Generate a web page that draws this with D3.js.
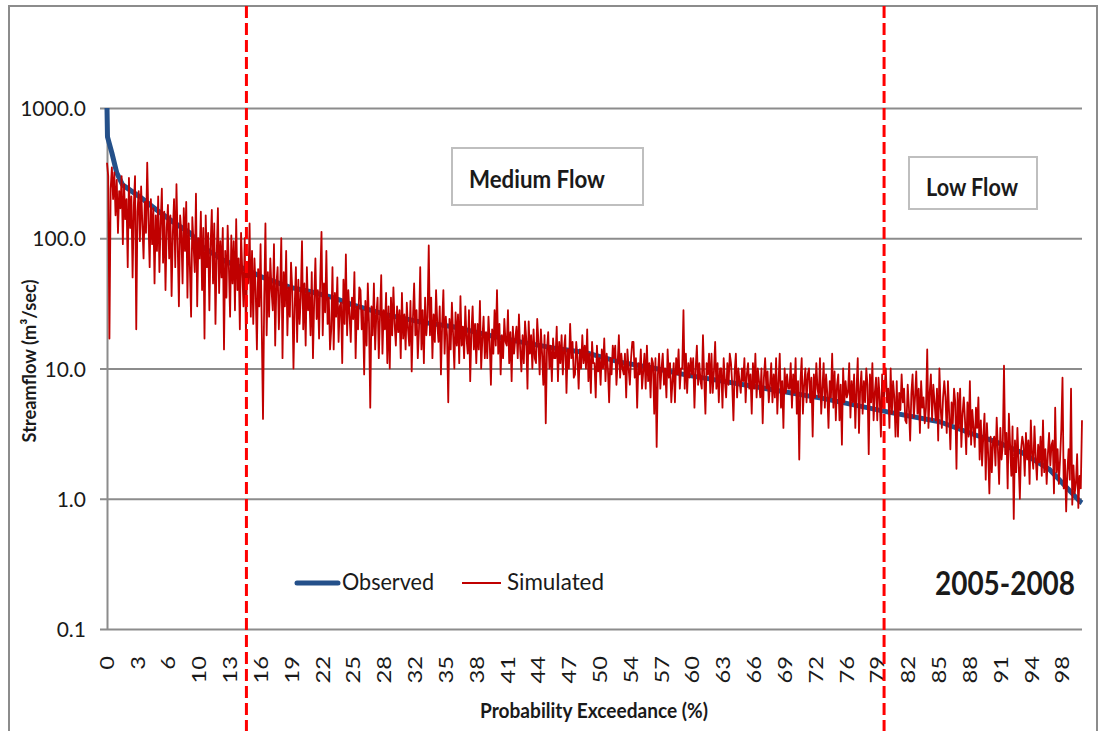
<!DOCTYPE html>
<html>
<head>
<meta charset="utf-8">
<script src="https://cdn.jsdelivr.net/npm/d3@7"></script>
<style>
  body { margin: 0; background: #fff; }
  svg { display: block; font-family: Lato, "Open Sans", sans-serif; }
</style>
</head>
<body>
<svg id="chart" width="1101" height="731"></svg>
<script>
// Flow duration curve, 2005-2008: observed vs simulated streamflow (m³/sec)

const yTickValues = [0.1, 1, 10, 100, 1000];
const xTickLabels = [0, 3, 6, 10, 13, 16, 19, 22, 25, 28, 32, 35, 38, 41, 44, 47,
  50, 54, 57, 60, 63, 66, 69, 72, 76, 79, 82, 85, 88, 91, 94, 98];

// Observed curve: probability exceedance (%) and flow
const observedPct = [0, 0.05, 0.5, 1.0, 1.6, 3.4, 5.1, 6.8, 8.5, 9.8, 11.9, 13.9, 16.0,
  18.8, 20.8, 23.2, 25.2, 28.7, 32.1, 35.5, 39.0, 42.4, 45.7, 49.2, 52.6, 56.0, 59.5,
  66.7, 73.4, 80.3, 85.4, 89.0, 90.6, 91.9, 93.9, 96.7, 99.8, 100];
const observedFlow = [1000, 600, 452, 318, 257, 207, 165, 133, 110, 86, 68, 59, 50,
  42, 39, 35, 30.8, 25.8, 22.8, 20.9, 18.1, 16.0, 14.4, 13.2, 11.2, 10.1, 8.9,
  7.2, 5.9, 4.6, 3.9, 3.1, 2.83, 2.6, 2.25, 1.67, 0.95, 0.93];

// Simulated flows, evenly spaced in rank from 0 % to 100 % exceedance (8 per percent)
const simulatedFlow = [
  380, 300, 17, 240, 350, 200, 320, 150,    280, 110, 230, 170, 300, 90, 260, 140,
  200, 60, 290, 120, 210, 50, 180, 300,     20, 160, 230, 95, 250, 130, 70, 190,
  110, 380, 140, 60, 200, 90, 170, 45,      150, 80, 210, 55, 130, 240, 65, 160,
  40, 120, 180, 70, 150, 36, 110, 200,      60, 260, 90, 30, 150, 110, 45, 170,
  80, 190, 35, 130, 60, 25, 145, 90,        55, 220, 30, 100, 70, 160, 40, 120,
  17, 150, 60, 110, 28, 90, 165, 45,        130, 22, 75, 170, 38, 95, 50, 120,
  14, 80, 35, 125, 60, 25, 105, 45,         95, 28, 140, 40, 70, 20, 110, 55,
  30, 100, 18, 65, 45, 130, 25, 80,         22, 70, 40, 14, 58, 30, 90, 20,
  4.1, 35, 130, 18, 55, 25, 70, 40,         28, 90, 15, 45, 60, 20, 38, 100,
  12, 55, 30, 80, 18, 42, 25, 65,           40, 10, 30, 60, 16, 48, 22, 35,
  95, 20, 45, 15, 60, 28, 38, 18,           55, 12, 33, 70, 24, 40, 17, 50,
  112, 18, 45, 27, 80, 22, 35, 14,          20, 60, 14, 38, 25, 50, 16, 30,
  32, 11, 48, 22, 75, 18, 40, 26,           16, 35, 24, 55, 12, 30, 20, 42,
  40, 20, 28, 9, 33, 15, 45, 22,            5.0, 30, 18, 45, 14, 26, 35, 12,
  25, 52, 13, 28, 20, 38, 11, 30,           10, 35, 18, 42, 22, 15, 30, 19,
  28, 12, 38, 17, 26, 14, 32, 20,           15, 33, 9.5, 24, 45, 18, 28, 12,
  20, 60, 14, 28, 11, 35, 18, 25,           88, 18, 35, 12, 26, 16, 40, 22,
  16, 30, 9, 22, 40, 13, 25, 18,            5.5, 24, 14, 32, 18, 10, 27, 15,
  26, 11, 36, 15, 21, 12, 30, 17,           13, 28, 8, 19, 30, 14, 22, 11,
  22, 14, 33, 10, 17, 25, 12, 19,           12, 25, 16, 7.5, 20, 13, 28, 15,
  40, 13, 22, 9, 18, 12, 24, 16,            15, 28, 11, 19, 8, 21, 13, 17,
  21, 12, 26, 14, 9.5, 18, 11, 23,          17, 7, 23, 13, 18, 10, 20, 12,
  11, 24, 16, 9, 20, 13, 7.5, 18,           3.8, 14, 19, 10, 15, 8, 17, 12,
  12, 21, 8, 16, 11, 18, 9, 14,             18, 6.5, 14, 10, 22, 12, 16, 8.5,
  9, 16, 12, 7, 14, 10, 18, 11,             15, 10, 20, 8, 13, 6.5, 16, 11,
  11, 6, 15, 9.5, 12, 7.5, 14, 10,          17, 8, 13, 10, 5.5, 12, 9, 15,
  12, 15, 7.5, 11, 18, 8.5, 13, 10,         9, 13, 6, 14, 10, 7.5, 12, 16,
  16, 8.5, 12, 5, 11, 9, 14, 7,             9.5, 13, 7, 15, 8, 11, 6, 12,
  11, 4.5, 12, 2.5, 9, 13, 7, 10,           13, 7.5, 10, 6, 14, 8.5, 11, 5.5,
  8, 11, 5.5, 12, 9, 14, 7, 10,             10, 28, 7, 13, 6.5, 11, 8.5, 12,
  9, 12, 5, 10, 15, 7.5, 11, 8,             7, 18, 8.5, 4.5, 11, 9, 13, 6.5,
  13, 6.5, 9.5, 16, 7, 11, 5.5, 10,         10, 5, 12, 8, 6, 11, 7.5, 13,
  11, 7.5, 4, 9.5, 13, 6, 10, 8,            6.5, 10, 8, 12, 5.5, 9, 11, 7,
  9, 4.5, 11, 7, 13, 6, 10, 8,              6, 10, 3.8, 8.5, 12, 7, 9.5, 5.5,
  7.5, 11, 5.5, 9, 6, 12, 4.5, 8,           13, 5, 8, 3.5, 10, 6.5, 9, 7,
  7, 11, 5, 9, 6.5, 12, 4.5, 8,             2.0, 8, 12, 4.5, 7.5, 10, 5.5, 9,
  10, 5.5, 8.5, 3, 9, 6, 11, 7,             6, 12, 4.5, 7, 11, 5, 9, 6.5,
  3.5, 8, 6, 13, 5, 9.5, 4, 7.5,            9, 4, 7.5, 2.6, 10, 5.5, 8, 6,
  6.5, 11, 4.2, 8, 5.5, 9, 3.5, 7,          12, 3.2, 7, 9.5, 4.5, 8, 5.5, 10,
  7.5, 2.2, 9, 5.5, 11, 4, 6.5, 8.5,        4, 8.5, 6, 3, 9, 5, 7, 10,
  5.5, 7, 3.5, 10, 4.5, 8, 6, 3,            8, 3, 6.5, 4.8, 9, 5.5, 7, 4,
  3.8, 7.5, 5, 2.8, 6.5, 9, 4.2, 6,         9.5, 4.5, 7, 3.2, 8, 5, 6, 3.8,
  5, 14, 3.5, 6.5, 9, 4, 7.5, 5.5,          4, 7, 2.8, 10, 5, 3.5, 6, 8,
  6, 3.2, 8, 4.5, 2.4, 5.5, 3.8, 7,         5.5, 1.7, 6.5, 3.5, 7, 2.5, 4.5, 6,
  4, 2.2, 5.5, 3, 8, 2.6, 4.8, 3.5,         2.5, 5, 3.5, 6, 2, 4, 1.8, 3,
  4.5, 1.4, 3.8, 2.2, 1.1, 3, 1.6, 2.8,     3, 1.8, 4.2, 2.4, 1.3, 3.5, 2, 2.6,
  10.5, 2.2, 3.2, 1.2, 4.5, 2.6, 1.5, 3.6,  0.7, 2.8, 1.6, 3.5, 1.9, 1, 2.4, 3,
  2.6, 1.5, 3.2, 2, 2.8, 1.3, 4, 2.2,       1.7, 3.6, 2.1, 1.4, 2.6, 1.9, 3, 1.5,
  4, 1.6, 2.4, 1.3, 2.2, 3.2, 1.8, 2.6,     2.8, 1.1, 5, 1.6, 2.4, 1.3, 2, 3.4,
  8.5, 1.2, 2, 0.8, 1.6, 2.4, 1.4, 7,       0.9, 1.8, 1.1, 1.3, 2.2, 0.85, 1.5, 1.2,
  4
];

// Flow regime boundaries (% exceedance) and their labels
const regimeBounds = [14.3, 79.7];
const regimeNames = ["Medium Flow", "Low Flow"];
const seriesNames = ["Observed", "Simulated"];
const periodLabel = "2005-2008";

const colors = { observed: "#24508a", simulated: "#c00000", grid: "#8c8c8c", bound: "#ff0000", text: "#1a1a1a" };

const svg = d3.select("#chart");
const plot = { left: 107, right: 1082, top: 108, bottom: 629 };

const x = d3.scaleLinear().domain([0, 100]).range([plot.left, plot.right]);
const y = d3.scaleLog().domain([0.1, 1000]).range([plot.bottom, plot.top]);
const xIndex = d3.scaleLinear().domain([0, simulatedFlow.length - 1]).range([plot.left, plot.right]);
// category labels sit at evenly spaced ranks
const xCat = d3.scalePoint().domain(xTickLabels).range([x(0), x(xTickLabels[xTickLabels.length - 1])]);

// outer frame
svg.append("rect")
  .attr("x", 9).attr("y", 6).attr("width", 1088).attr("height", 760)
  .attr("fill", "#fff").attr("stroke", colors.grid).attr("stroke-width", 2);

// horizontal gridlines + y axis
const yAxis = d3.axisLeft(y).tickValues(yTickValues).tickFormat(d3.format(".1f"))
  .tickSize(-(plot.right - plot.left)).tickSizeOuter(0).tickPadding(14);
const gy = svg.append("g").attr("transform", `translate(${plot.left},0)`).call(yAxis);
gy.select(".domain").attr("stroke", colors.grid).attr("stroke-width", 2);
gy.selectAll(".tick line").attr("stroke", colors.grid).attr("stroke-width", 2).attr("x1", -7);
gy.selectAll(".tick text").attr("font-family", "Lato, sans-serif").attr("font-size", 21)
  .attr("fill", colors.text).attr("dy", "0.36em").attr("x", -21);

// x category labels
const gx = svg.append("g");
gx.selectAll("text").data(xTickLabels).join("text")
  .attr("transform", d => `translate(${xCat(d)},656) rotate(-90) scale(1.25,1)`)
  .attr("text-anchor", "end").attr("dy", "0.36em")
  .attr("font-size", 19).attr("fill", colors.text)
  .text(d => d);

// observed curve
const obsLine = d3.line().x((d, i) => x(observedPct[i])).y(d => y(d));
svg.append("path").datum(observedFlow)
  .attr("d", obsLine).attr("fill", "none")
  .attr("stroke", colors.observed).attr("stroke-width", 5).attr("stroke-linejoin", "round");

// simulated series
const simLine = d3.line().x((d, i) => xIndex(i)).y(d => y(d));
svg.append("path").datum(simulatedFlow)
  .attr("d", simLine).attr("fill", "none")
  .attr("stroke", colors.simulated).attr("stroke-width", 1.8).attr("stroke-linejoin", "round");

// regime boundaries
svg.selectAll(".bound").data(regimeBounds).join("line")
  .attr("class", "bound")
  .attr("x1", d => x(d)).attr("x2", d => x(d))
  .attr("y1", 6).attr("y2", 731)
  .attr("stroke", colors.bound).attr("stroke-width", 3).attr("stroke-dasharray", "12,5");

// regime labels in boxes
const boxes = [
  { name: regimeNames[0], x: 452, y: 148, w: 191, h: 57, tx: 469, ty: 188, tl: 136 },
  { name: regimeNames[1], x: 909, y: 157, w: 128, h: 52, tx: 926, ty: 196, tl: 92 }
];
const gb = svg.selectAll(".box").data(boxes).join("g").attr("class", "box");
gb.append("rect").attr("x", d => d.x).attr("y", d => d.y).attr("width", d => d.w).attr("height", d => d.h)
  .attr("fill", "#fff").attr("stroke", "#bfbfbf").attr("stroke-width", 2);
gb.append("text").attr("x", d => d.tx).attr("y", d => d.ty)
  .attr("font-size", 24).attr("font-weight", 700).attr("fill", colors.text)
  .attr("textLength", d => d.tl).attr("lengthAdjust", "spacingAndGlyphs")
  .text(d => d.name);

// legend
const legend = svg.append("g");
legend.append("line").attr("x1", 297).attr("x2", 338).attr("y1", 583).attr("y2", 583)
  .attr("stroke", colors.observed).attr("stroke-width", 5).attr("stroke-linecap", "round");
legend.append("text").attr("x", 342).attr("y", 590).attr("font-size", 24).attr("fill", colors.text)
  .attr("textLength", 92).attr("lengthAdjust", "spacingAndGlyphs").text(seriesNames[0]);
legend.append("line").attr("x1", 462).attr("x2", 501).attr("y1", 583).attr("y2", 583)
  .attr("stroke", colors.simulated).attr("stroke-width", 2);
legend.append("text").attr("x", 507).attr("y", 590).attr("font-size", 24).attr("fill", colors.text)
  .attr("textLength", 97).attr("lengthAdjust", "spacingAndGlyphs").text(seriesNames[1]);

// period label
svg.append("text").attr("x", 935).attr("y", 595)
  .attr("font-size", 32).attr("font-weight", 700).attr("fill", colors.text)
  .attr("textLength", 140).attr("lengthAdjust", "spacingAndGlyphs").text(periodLabel);

// axis titles
svg.append("text").attr("x", 480).attr("y", 718)
  .attr("font-size", 20).attr("font-weight", 700).attr("fill", colors.text)
  .attr("textLength", 228).attr("lengthAdjust", "spacingAndGlyphs")
  .text("Probability Exceedance (%)");
svg.append("text").attr("transform", "translate(36,361) rotate(-90)")
  .attr("text-anchor", "middle")
  .attr("font-size", 19).attr("font-weight", 700).attr("fill", colors.text)
  .attr("textLength", 163).attr("lengthAdjust", "spacingAndGlyphs")
  .text("Streamflow (m³/sec)");
</script>
</body>
</html>
